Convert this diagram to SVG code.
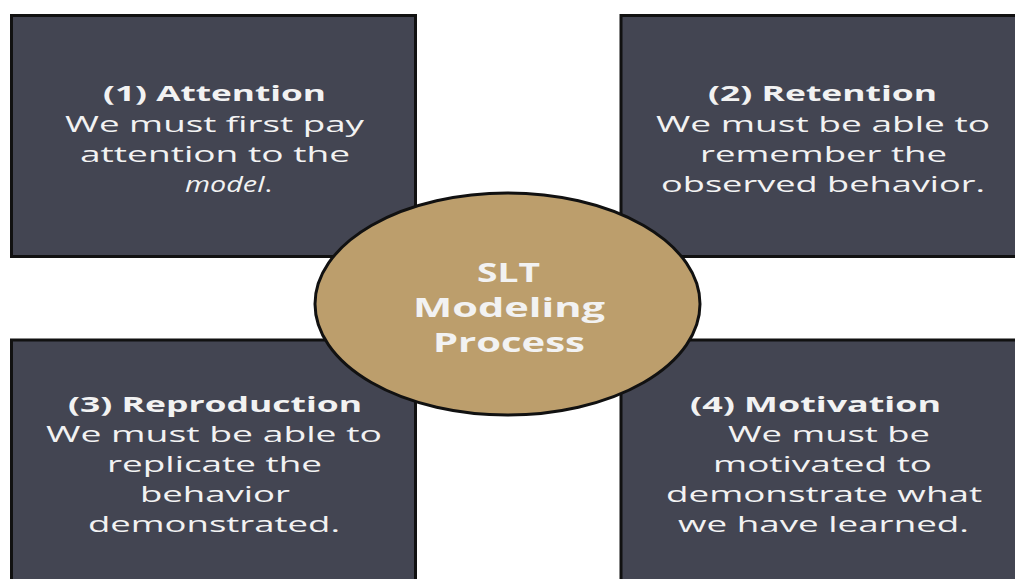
<svg xmlns="http://www.w3.org/2000/svg" width="1015" height="579" viewBox="0 0 1015 579">
<style>
.box{fill:#434552;stroke:#111;stroke-width:3}
.hub{fill:#bc9e6c;stroke:#111;stroke-width:3}
text{font-family:"Open Sans","Liberation Sans",sans-serif;fill:#f2f2f2;font-size:22px}
.t{font-weight:bold}
.c{font-weight:bold;font-size:27px}
</style>
<rect width="1015" height="579" fill="#ffffff"/>
<g id="connectors"></g>
<g id="node1">
<rect class="box" x="11.5" y="15.5" width="404" height="241"/>
<text class="t" x="103" y="101" textLength="223" lengthAdjust="spacingAndGlyphs">(1) Attention</text>
<text x="65" y="131.5" textLength="299" lengthAdjust="spacingAndGlyphs">We must first pay</text>
<text x="80" y="162" textLength="270" lengthAdjust="spacingAndGlyphs">attention to the</text>
<text x="185" y="192" textLength="87" lengthAdjust="spacingAndGlyphs"><tspan font-style="italic">model</tspan>.</text>
</g>
<g id="node2">
<rect class="box" x="621" y="15.5" width="420" height="241"/>
<text class="t" x="708" y="101" textLength="229" lengthAdjust="spacingAndGlyphs">(2) Retention</text>
<text x="656" y="131.5" textLength="334" lengthAdjust="spacingAndGlyphs">We must be able to</text>
<text x="700" y="162" textLength="247" lengthAdjust="spacingAndGlyphs">remember the</text>
<text x="661" y="192" textLength="324" lengthAdjust="spacingAndGlyphs">observed behavior.</text>
</g>
<g id="node3">
<rect class="box" x="11.5" y="340" width="404" height="260"/>
<text class="t" x="68" y="411.5" textLength="294" lengthAdjust="spacingAndGlyphs">(3) Reproduction</text>
<text x="46" y="442" textLength="336" lengthAdjust="spacingAndGlyphs">We must be able to</text>
<text x="107" y="472" textLength="215" lengthAdjust="spacingAndGlyphs">replicate the</text>
<text x="140" y="502" textLength="150" lengthAdjust="spacingAndGlyphs">behavior</text>
<text x="88" y="532" textLength="252" lengthAdjust="spacingAndGlyphs">demonstrated.</text>
</g>
<g id="node4">
<rect class="box" x="621" y="340" width="420" height="260"/>
<text class="t" x="690" y="411.5" textLength="251" lengthAdjust="spacingAndGlyphs">(4) Motivation</text>
<text x="728" y="442" textLength="202" lengthAdjust="spacingAndGlyphs">We must be</text>
<text x="713" y="472" textLength="219" lengthAdjust="spacingAndGlyphs">motivated to</text>
<text x="666" y="502" textLength="316" lengthAdjust="spacingAndGlyphs">demonstrate what</text>
<text x="678" y="532" textLength="291" lengthAdjust="spacingAndGlyphs">we have learned.</text>
</g>
<g id="hub">
<ellipse class="hub" cx="507.5" cy="304" rx="192.5" ry="111"/>
<text class="c" x="477" y="282" textLength="63" lengthAdjust="spacingAndGlyphs">SLT</text>
<text class="c" x="413" y="317" textLength="192" lengthAdjust="spacingAndGlyphs">Modeling</text>
<text class="c" x="433" y="352" textLength="152" lengthAdjust="spacingAndGlyphs">Process</text>
</g>
</svg>
